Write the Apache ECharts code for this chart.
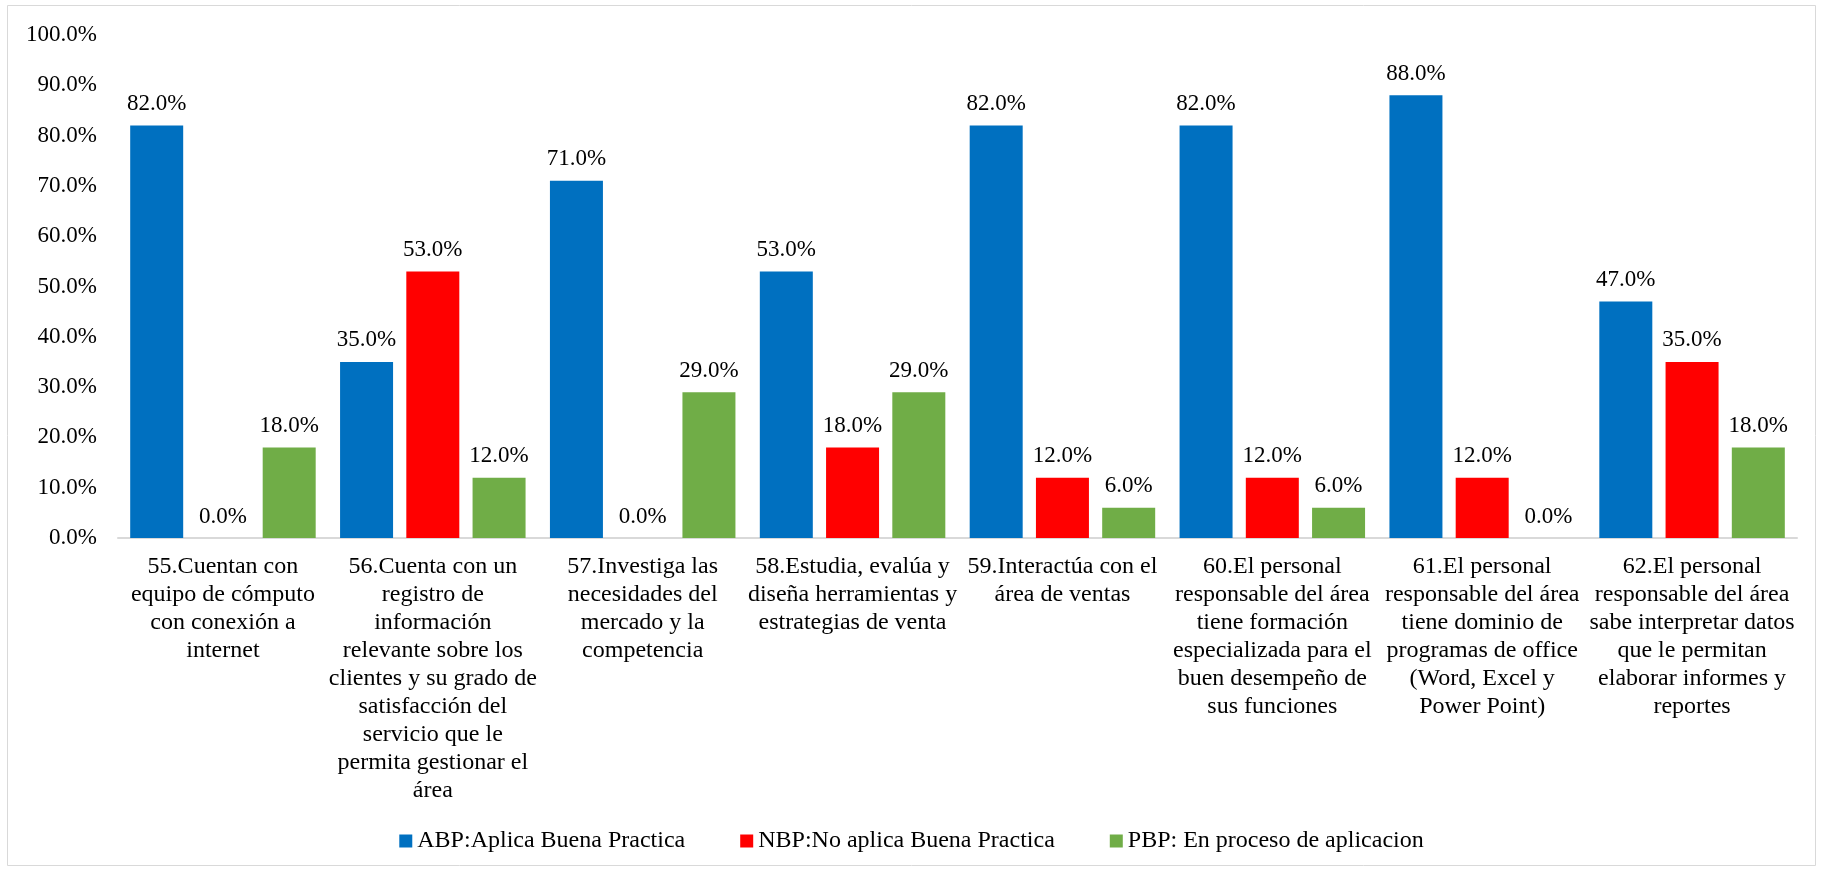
<!DOCTYPE html>
<html>
<head>
<meta charset="utf-8">
<script src="https://cdn.jsdelivr.net/npm/echarts@6/dist/echarts.min.js"></script>
<style>
  html, body { margin: 0; padding: 0; background: #ffffff; }
  #chart { width: 1823px; height: 871px; }
</style>
</head>
<body>
<div id="chart"></div>
<script>
// Survey items (category axis)
const categories = [
  '55.Cuentan con\nequipo de cómputo\ncon conexión a\ninternet',
  '56.Cuenta con un\nregistro de\ninformación\nrelevante sobre los\nclientes y su grado de\nsatisfacción del\nservicio que le\npermita gestionar el\nárea',
  '57.Investiga las\nnecesidades del\nmercado y la\ncompetencia',
  '58.Estudia, evalúa y\ndiseña herramientas y\nestrategias de venta',
  '59.Interactúa con el\nárea de ventas',
  '60.El personal\nresponsable del área\ntiene formación\nespecializada para el\nbuen desempeño de\nsus funciones',
  '61.El personal\nresponsable del área\ntiene dominio de\nprogramas de office\n(Word, Excel y\nPower Point)',
  '62.El personal\nresponsable del área\nsabe interpretar datos\nque le permitan\nelaborar informes y\nreportes'
];

// Percentages per answer type
const seriesNames = [
  'ABP:Aplica Buena Practica',
  'NBP:No aplica Buena Practica',
  'PBP: En proceso de aplicacion'
];
const abpValues = [82, 35, 71, 53, 82, 82, 88, 47];
const nbpValues = [0, 53, 0, 18, 12, 12, 12, 35];
const pbpValues = [18, 12, 29, 29, 6, 6, 0, 18];

// Value axis range
const yMin = 0;
const yMax = 100;
const yStep = 10;

const FONT = '"Liberation Serif", "Times New Roman", serif';
const colors = ['#0070C0', '#FF0000', '#70AD47'];

const pct = v => Number(v).toFixed(1) + '%';

function barSeries(name, data, color) {
  return {
    name: name,
    type: 'bar',
    data: data,
    barWidth: 53,
    barGap: '25%',
    itemStyle: { color: color },
    label: {
      show: true,
      position: 'top',
      distance: 10,
      formatter: p => pct(p.value),
      fontFamily: FONT,
      fontSize: 23,
      color: '#000000'
    }
  };
}

const chart = echarts.init(document.getElementById('chart'), null, { renderer: 'canvas' });

chart.setOption({
  backgroundColor: '#ffffff',
  animation: false,
  color: colors,
  graphic: [{
    type: 'rect',
    shape: { x: 7.5, y: 5.5, width: 1808, height: 860 },
    style: { fill: 'none', stroke: '#d9d9d9', lineWidth: 1 },
    silent: true
  }],
  grid: {
    left: 118,
    right: 26,
    top: 35,
    bottom: 333,
    containLabel: false
  },
  legend: {
    data: seriesNames,
    left: 'center',
    top: 824,
    itemWidth: 13,
    itemHeight: 13,
    itemGap: 55,
    icon: 'rect',
    textStyle: {
      fontFamily: FONT,
      fontSize: 24,
      color: '#000000'
    }
  },
  xAxis: {
    type: 'category',
    data: categories,
    axisLine: { show: true, lineStyle: { color: '#d9d9d9', width: 2 } },
    axisTick: { show: false },
    axisLabel: {
      interval: 0,
      margin: 15,
      fontFamily: FONT,
      fontSize: 24,
      lineHeight: 28,
      color: '#000000',
      align: 'center'
    }
  },
  yAxis: {
    type: 'value',
    min: yMin,
    max: yMax,
    interval: yStep,
    axisLine: { show: false },
    axisTick: { show: false },
    splitLine: { show: false },
    axisLabel: {
      margin: 21,
      formatter: v => pct(v),
      fontFamily: FONT,
      fontSize: 23,
      color: '#000000'
    }
  },
  series: [
    barSeries(seriesNames[0], abpValues, colors[0]),
    barSeries(seriesNames[1], nbpValues, colors[1]),
    barSeries(seriesNames[2], pbpValues, colors[2])
  ]
});
</script>
</body>
</html>
